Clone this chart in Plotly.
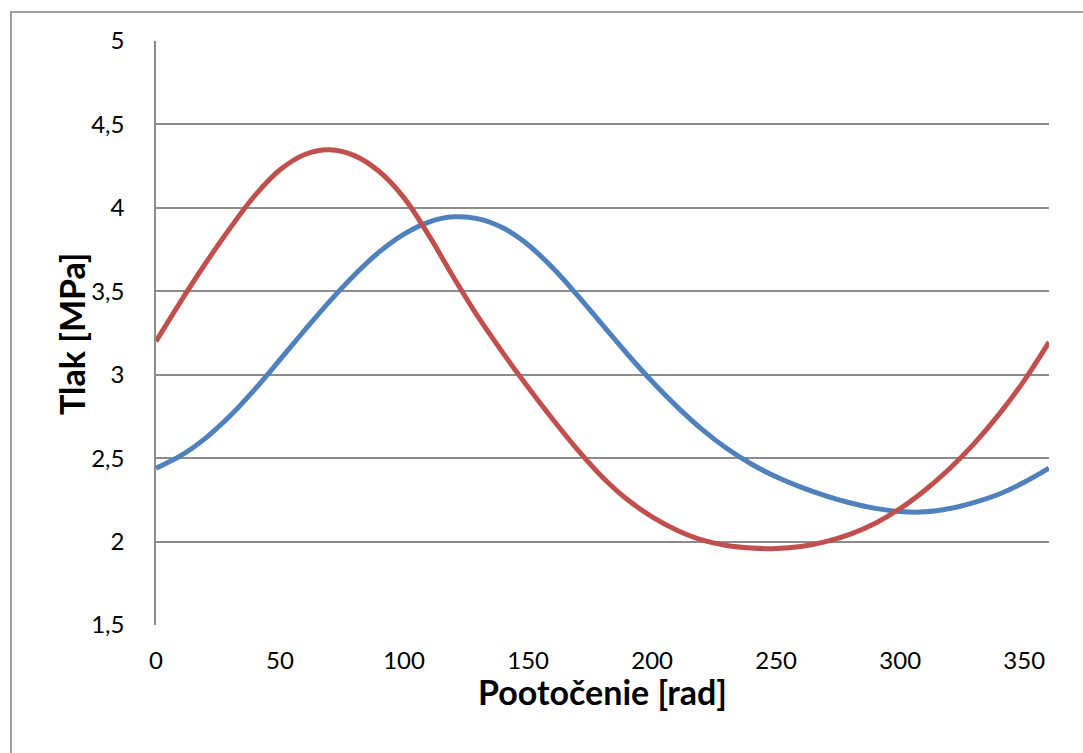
import plotly.graph_objects as go

angle = [0, 10, 20, 30, 40, 50, 60, 70, 80, 90, 100, 110, 120, 130, 140, 150, 160, 170, 180,
         190, 200, 210, 220, 230, 240, 250, 260, 270, 280, 290, 300, 310, 320, 330, 340, 350, 360]

red = [3.20, 3.44, 3.668, 3.881, 4.076, 4.228, 4.32, 4.348, 4.313, 4.218, 4.06, 3.835, 3.583,
       3.343, 3.128, 2.925, 2.732, 2.55, 2.386, 2.252, 2.148, 2.068, 2.01, 1.977, 1.962, 1.958,
       1.97, 2.00, 2.045, 2.11, 2.198, 2.308, 2.438, 2.59, 2.765, 2.965, 3.195]

blue = [2.44, 2.515, 2.62, 2.755, 2.915, 3.09, 3.268, 3.44, 3.598, 3.736, 3.843, 3.915, 3.946,
        3.934, 3.879, 3.779, 3.639, 3.474, 3.299, 3.124, 2.959, 2.809, 2.674, 2.559, 2.465, 2.388,
        2.326, 2.274, 2.231, 2.199, 2.18, 2.178, 2.198, 2.235, 2.285, 2.355, 2.44]

x_ticks = [0, 50, 100, 150, 200, 250, 300, 350]
y_ticks = [1.5, 2, 2.5, 3, 3.5, 4, 4.5, 5]
y_tick_labels = ["1,5", "2", "2,5", "3", "3,5", "4", "4,5", "5"]

x_title = "Pootočenie [rad]"
y_title = "Tlak [MPa]"

fig = go.Figure()
fig.add_trace(go.Scatter(x=angle, y=blue, mode="lines",
                         line=dict(color="#4F81BD", width=5, shape="spline", smoothing=1),
                         showlegend=False))
fig.add_trace(go.Scatter(x=angle, y=red, mode="lines",
                         line=dict(color="#C0504D", width=5, shape="spline", smoothing=1),
                         showlegend=False))

font_family = "Lato, Carlito, Calibri, sans-serif"

fig.update_layout(
    width=1083, height=753,
    margin=dict(l=156, r=34, t=41, b=128, pad=0),
    paper_bgcolor="white", plot_bgcolor="white",
    font=dict(family=font_family, color="black", size=24),
    shapes=[dict(type="rect", xref="paper", yref="paper", x0=-0.1624, x1=1.2, y0=-0.4, y1=1.0497,
                 line=dict(color="#a0a0a0", width=2), fillcolor="rgba(0,0,0,0)", layer="below")],
    annotations=[
        dict(text="<b>" + x_title + "</b>", xref="paper", yref="paper", x=0.5, y=-0.1147,
             xanchor="center", yanchor="middle", showarrow=False,
             font=dict(size=34, family=font_family, color="black")),
        dict(text="<b>" + y_title + "</b>", xref="paper", yref="paper", x=-0.0952, y=0.5,
             xanchor="center", yanchor="middle", showarrow=False, textangle=-90,
             font=dict(size=34, family=font_family, color="black")),
    ],
)
fig.update_xaxes(
    range=[0, 360], tickvals=x_ticks, ticktext=[str(v) for v in x_ticks],
    showgrid=False, zeroline=False, showline=False,
    ticks="outside", ticklen=0, ticklabelstandoff=14,
    tickfont=dict(size=24, family=font_family),
)
fig.update_yaxes(
    range=[1.5, 5], tickvals=y_ticks, ticktext=y_tick_labels,
    showgrid=True, gridcolor="#8c8c8c", gridwidth=1.5,
    zeroline=False, showline=True, linecolor="#8c8c8c", linewidth=1.5,
    ticks="outside", ticklen=0, ticklabelstandoff=25,
    tickfont=dict(size=24, family=font_family),
)

fig.write_html("out.html")
